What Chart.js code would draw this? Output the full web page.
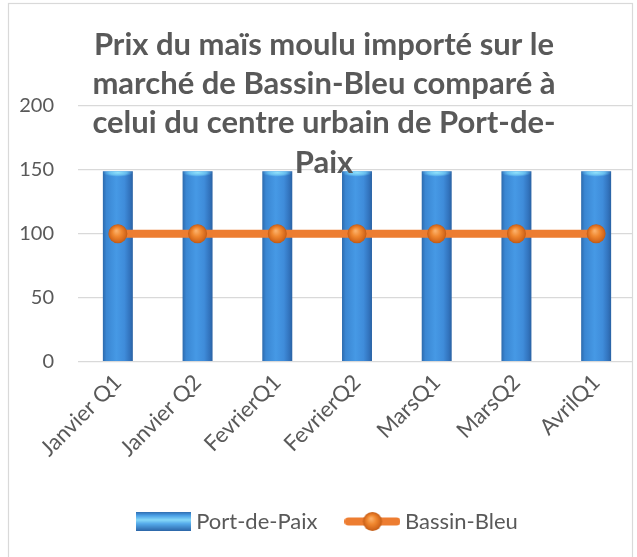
<!DOCTYPE html>
<html><head><meta charset="utf-8">
<script src="https://cdn.jsdelivr.net/npm/chart.js@4/dist/chart.umd.min.js"></script>
<style>html,body{margin:0;padding:0;background:#fff;}#wrap{width:637px;height:557px;}</style>
</head><body><div id="wrap"><canvas id="c" width="637" height="557"></canvas></div>
<script>
const categories = ['Janvier Q1','Janvier Q2','FevrierQ1','FevrierQ2','MarsQ1','MarsQ2','AvrilQ1'];
const portDePaix = [149,149,149,149,149,149,149];
const bassinBleu = [100,100,100,100,100,100,100];
const yTicks = [0,50,100,150,200];
const titleLines = ['Prix du maïs moulu importé sur le','marché de Bassin-Bleu comparé à','celui du centre urbain de Port-de-','Paix'];
const seriesNames = ['Port-de-Paix','Bassin-Bleu'];

const TXT = '#595959';
const BAR_PCT = 0.376;
const PT_R = 9.5;
const ok = v => typeof v === 'number' && isFinite(v);

function barFill(ctx){
  const chart = ctx.chart, xs = chart.scales && chart.scales.x;
  if (!xs || ctx.dataIndex === undefined) return '#3f8fd8';
  const cx = xs.getPixelForValue(ctx.dataIndex);
  const step = xs.getPixelForValue(1) - xs.getPixelForValue(0);
  const hw = step * BAR_PCT / 2;
  if (!ok(cx) || !ok(hw) || hw <= 0) return '#3f8fd8';
  const g = chart.ctx.createLinearGradient(cx - hw, 0, cx + hw, 0);
  g.addColorStop(0, '#2d6aac');
  g.addColorStop(0.12, '#3a86d2');
  g.addColorStop(0.45, '#4699e5');
  g.addColorStop(0.72, '#3f8cda');
  g.addColorStop(0.9, '#3273bd');
  g.addColorStop(1, '#2a62a3');
  return g;
}
function pointFill(ctx){
  const chart = ctx.chart, xs = chart.scales && chart.scales.x, ys = chart.scales && chart.scales.y;
  if (!xs || !ys || ctx.dataIndex === undefined) return '#ed7d31';
  const px = xs.getPixelForValue(ctx.dataIndex);
  const py = ys.getPixelForValue(bassinBleu[ctx.dataIndex]);
  if (!ok(px) || !ok(py)) return '#ed7d31';
  const g = chart.ctx.createRadialGradient(px - 1.5, py - 3, 0.5, px, py, PT_R);
  g.addColorStop(0, '#fbb06a');
  g.addColorStop(0.45, '#f0872f');
  g.addColorStop(0.85, '#d4681c');
  g.addColorStop(1, '#c05a14');
  return g;
}

function makeBarSwatch(){
  const cv = document.createElement('canvas'); cv.width = 55; cv.height = 19;
  const c = cv.getContext('2d');
  const g = c.createLinearGradient(0, 0, 0, 19);
  g.addColorStop(0, '#2f6db0'); g.addColorStop(0.18, '#4a9fe6');
  g.addColorStop(0.42, '#86d8f8'); g.addColorStop(0.62, '#55aaea');
  g.addColorStop(1, '#2c66a8');
  c.fillStyle = g; c.fillRect(0, 0, 55, 19);
  return cv;
}
function makeLineSwatch(){
  const cv = document.createElement('canvas'); cv.width = 56; cv.height = 21;
  const c = cv.getContext('2d');
  c.strokeStyle = '#ed7d31'; c.lineWidth = 8; c.lineCap = 'round';
  c.beginPath(); c.moveTo(4, 10.5); c.lineTo(52, 10.5); c.stroke();
  const g = c.createRadialGradient(26.5, 7.5, 0.5, 28, 10.5, PT_R);
  g.addColorStop(0, '#fbb06a'); g.addColorStop(0.45, '#f0872f');
  g.addColorStop(0.85, '#d4681c'); g.addColorStop(1, '#c05a14');
  c.fillStyle = g; c.beginPath(); c.arc(28, 10.5, PT_R, 0, Math.PI * 2); c.fill();
  return cv;
}
const swatches = [makeBarSwatch(), makeLineSwatch()];

const barCaps = {
  id: 'barCaps',
  afterDatasetDraw(chart, args){
    if (args.index !== 0) return;
    const c = chart.ctx;
    args.meta.data.forEach(el => {
      const p = el.getProps(['x','y','width','base'], true);
      if (!ok(p.x) || !ok(p.y) || !ok(p.width) || !ok(p.base)) return;
      c.save();
      c.beginPath(); c.rect(p.x - p.width/2, p.y, p.width, p.base - p.y); c.clip();
      c.translate(p.x, p.y + 1.5); c.scale(1, 0.28);
      const g = c.createRadialGradient(0, 0, 0, 0, 0, p.width/2);
      g.addColorStop(0, 'rgba(150,230,252,0.95)');
      g.addColorStop(0.6, 'rgba(120,210,248,0.7)');
      g.addColorStop(1, 'rgba(100,190,240,0)');
      c.fillStyle = g; c.beginPath(); c.arc(0, 0, p.width/2, 0, Math.PI*2); c.fill();
      c.restore();
    });
  }
};
const legendShift = {
  id: 'legendShift',
  afterLayout(chart){
    if (chart.legend) { chart.legend.left += 12; chart.legend.right += 12; }
  }
};
const frameAndTitle = {
  id: 'frameAndTitle',
  afterDraw(chart){
    const c = chart.ctx;
    c.save();
    c.fillStyle = '#fff'; c.fillRect(633, 0, 10, 557);
    c.strokeStyle = '#d9d9d9'; c.lineWidth = 1.2;
    c.strokeRect(8.5, 3.5, 624, 570);
    c.font = 'bold 31px Lato'; c.fillStyle = TXT; c.textAlign = 'center'; c.textBaseline = 'alphabetic';
    titleLines.forEach((t, i) => c.fillText(t, 324, 55 + i * 39.2));
    c.restore();
  }
};

new Chart(document.getElementById('c'), {
  data: {
    labels: categories,
    datasets: [
      { type: 'bar', label: seriesNames[0], data: portDePaix, order: 2,
        backgroundColor: barFill, borderWidth: 0,
        barPercentage: BAR_PCT, categoryPercentage: 1 },
      { type: 'line', label: seriesNames[1], data: bassinBleu, order: 1,
        borderColor: '#ed7d31', backgroundColor: '#ed7d31', borderWidth: 8,
        pointRadius: PT_R, pointBorderWidth: 0, pointBackgroundColor: pointFill, tension: 0 }
    ]
  },
  options: {
    responsive: false, animation: false, devicePixelRatio: 1,
    layout: { autoPadding: false, padding: { top: 106, left: 0, right: 1, bottom: 14.5 } },
    scales: {
      x: {
        grid: { display: false, drawTicks: false }, border: { display: false },
        ticks: { color: TXT, font: { family: 'Lato', size: 22 }, minRotation: 45, maxRotation: 45, autoSkip: false, padding: 8 },
        afterFit(s){ s.height = 115.5; s.paddingLeft = 0; s.paddingRight = 0; }
      },
      y: {
        min: yTicks[0], max: yTicks[yTicks.length - 1],
        afterBuildTicks(s){ s.ticks = yTicks.map(v => ({ value: v })); },
        grid: { color: '#d9d9d9', lineWidth: 1.2, drawTicks: false }, border: { display: false },
        ticks: { color: TXT, font: { family: 'Lato', size: 20 }, padding: 24 },
        afterFit(s){ s.width = 78; s.paddingTop = 0; s.paddingBottom = 0; }
      }
    },
    plugins: {
      title: { display: false }, tooltip: { enabled: false },
      legend: {
        position: 'bottom',
        labels: {
          usePointStyle: true, pointStyleWidth: 43, padding: 33.5,
          color: TXT, font: { family: 'Lato', size: 22 },
          generateLabels(chart){
            return chart.data.datasets.map((ds, i) => ({
              text: ds.label, pointStyle: swatches[i], fillStyle: '#fff', strokeStyle: '#fff',
              lineWidth: 0, hidden: false, datasetIndex: i, fontColor: TXT
            }));
          }
        }
      }
    }
  },
  plugins: [barCaps, legendShift, frameAndTitle]
});
</script>
</body></html>
